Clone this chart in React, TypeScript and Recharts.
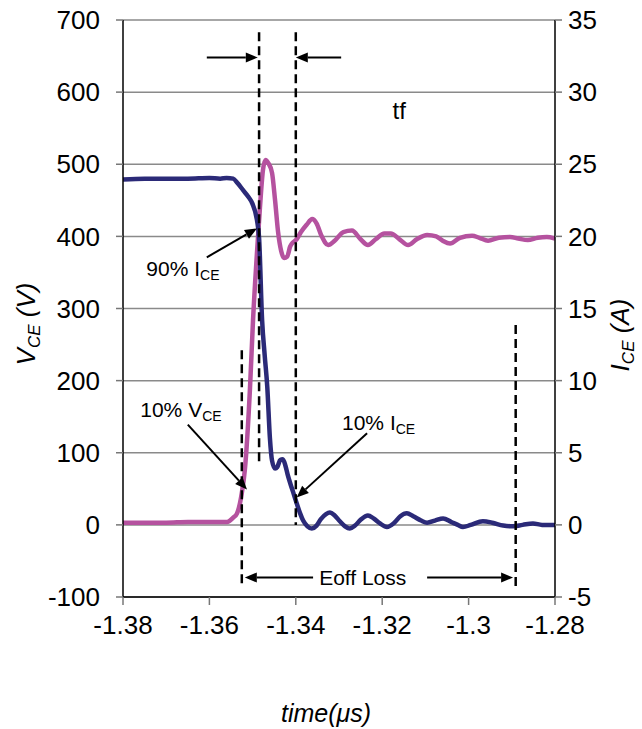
import React from 'react';
import { ComposedChart, Line, XAxis, YAxis, CartesianGrid, ReferenceLine, ReferenceDot } from 'recharts';

// ---- data ----
const xTicks = [-1.38, -1.36, -1.34, -1.32, -1.3, -1.28];
const vTicks = [-100, 0, 100, 200, 300, 400, 500, 600, 700];
const iTicks = [-5, 0, 5, 10, 15, 20, 25, 30, 35];

// V_CE (left axis)
const vceTime = [
  -1.38, -1.375, -1.37, -1.365, -1.36, -1.3575, -1.356, -1.3545, -1.3535, -1.3522, -1.351, -1.3501,
  -1.349, -1.3485, -1.3478, -1.3472, -1.3466, -1.346, -1.3455, -1.3448, -1.3443, -1.3436, -1.343,
  -1.3424, -1.3419, -1.3412, -1.3406, -1.3398, -1.339, -1.3383, -1.3373, -1.3363, -1.3352, -1.3342,
  -1.333, -1.3321, -1.331, -1.3298, -1.3286, -1.3275, -1.3263, -1.325, -1.3233, -1.322, -1.3205,
  -1.3189, -1.3172, -1.3158, -1.3143, -1.3128, -1.311, -1.3096, -1.3078, -1.3059, -1.304, -1.3025,
  -1.3013, -1.2995, -1.2967, -1.2945, -1.292, -1.2897, -1.2875, -1.2851, -1.283, -1.281, -1.28,
];
const vceValues = [
  479, 480, 480, 480, 481, 480, 481, 480, 474, 464, 455, 446,
  423, 398, 284, 235, 191, 121, 89, 78, 80, 90, 91,
  82, 70, 56, 45, 30, 16, 6, -2, -5, -1, 8,
  15, 17, 13, 5, -2, -5, -1, 7, 13, 9, 2,
  -3, 3, 12, 16, 12, 6, 3, 6, 9, 4, 0,
  -3, 0, 5, 3, -1, -2, 0, 2, 0, 0, 0,
];

// I_CE (right axis)
const iceTime = [
  -1.38, -1.37, -1.365, -1.36, -1.3559, -1.3545, -1.3536, -1.3525, -1.3518, -1.3506, -1.3499, -1.349,
  -1.3483, -1.3476, -1.347, -1.3464, -1.3455, -1.3448, -1.3441, -1.3434, -1.3427, -1.342, -1.3413,
  -1.3406, -1.3398, -1.3388, -1.3375, -1.3362, -1.3352, -1.334, -1.3325, -1.331, -1.329, -1.327,
  -1.325, -1.3233, -1.3215, -1.3195, -1.318, -1.316, -1.314, -1.312, -1.3096, -1.3075, -1.306,
  -1.3043, -1.302, -1.2992, -1.2975, -1.2955, -1.293, -1.2904, -1.2885, -1.2863, -1.284, -1.2819, -1.28,
];
const iceValues = [
  0.15, 0.15, 0.2, 0.2, 0.2, 0.5, 0.8, 2.2, 3.8, 9.5, 14.2, 18.8,
  22, 24.6, 25.3, 25.1, 24.4, 22.5, 20.3, 19.0, 18.5, 18.6, 19.3,
  19.6, 19.8, 20.3, 20.8, 21.2, 20.9, 20.0, 19.4, 19.7, 20.3, 20.4,
  19.8, 19.4, 19.8, 20.2, 20.2, 19.8, 19.4, 19.8, 20.1, 20.0, 19.7,
  19.5, 19.9, 20.05, 19.9, 19.7, 19.9, 19.95, 19.85, 19.75, 19.9, 19.95, 19.85,
];

// annotation geometry in data units (time, V_CE)
const dashTimes = [-1.3485, -1.34, -1.3525, -1.2891];
const dashTop = [683, 683, 242, 277];
const dashBottom = [87, 0, -84, -91];

const arrowStartT = [-1.3606, -1.3295, -1.3606, -1.365, -1.3235, -1.336, -1.3096];
const arrowStartV = [648, 648, 371, 139, 127, -73, -73];
const arrowEndT = [-1.3488, -1.34, -1.349, -1.3513, -1.3398, -1.3518, -1.2897];
const arrowEndV = [648, 648, 411, 49, 38, -73, -73];

const noteText = ['tf', '90% I', '10% V', '10% I', 'Eoff Loss'];
const noteSub = ['', 'CE', 'CE', 'CE', ''];
const noteT = [-1.3176, -1.3746, -1.376, -1.3293, -1.3346];
const noteV = [563, 345, 150, 131, -83];

const vceData = vceTime.map((t, i) => ({ t, v: vceValues[i] }));
const iceData = iceTime.map((t, i) => ({ t, a: iceValues[i] }));

const FONT = '"Liberation Sans", Arial, sans-serif';

const arrowShape = (props: any) => {
  const { x1, y1, x2, y2 } = props;
  const ang = Math.atan2(y2 - y1, x2 - x1);
  const L = 12;
  const W = 5;
  const bx = x2 - L * Math.cos(ang);
  const by = y2 - L * Math.sin(ang);
  const p1x = bx + W * Math.sin(ang);
  const p1y = by - W * Math.cos(ang);
  const p2x = bx - W * Math.sin(ang);
  const p2y = by + W * Math.cos(ang);
  return (
    <g>
      <line x1={x1} y1={y1} x2={bx} y2={by} stroke="#000" strokeWidth={2} />
      <polygon points={`${x2},${y2} ${p1x},${p1y} ${p2x},${p2y}`} fill="#000" />
    </g>
  );
};

const makeNote = (text: string, sub: string) => (props: any) => {
  const { cx, cy } = props;
  const size = sub || text.length > 3 ? 21 : 24;
  return (
    <text x={cx} y={cy} fontFamily={FONT} fontSize={size} fill="#000">
      {text}
      {sub ? (
        <tspan fontSize={14} dy={4}>
          {sub}
        </tspan>
      ) : null}
    </text>
  );
};

const LeftTitle = () => (
  <text
    x={35}
    y={324}
    transform="rotate(-90 35 324)"
    textAnchor="middle"
    fontFamily={FONT}
    fontSize={26}
    fontStyle="italic"
    fill="#000"
  >
    V<tspan fontSize={17} dy={5}>CE</tspan>
    <tspan dy={-5}> (V)</tspan>
  </text>
);

const RightTitle = () => (
  <text
    x={629}
    y={335}
    transform="rotate(-90 629 335)"
    textAnchor="middle"
    fontFamily={FONT}
    fontSize={26}
    fontStyle="italic"
    fill="#000"
  >
    I<tspan fontSize={17} dy={5}>CE</tspan>
    <tspan dy={-5}> (A)</tspan>
  </text>
);

const BottomTitle = () => (
  <text x={326} y={722} textAnchor="middle" fontFamily={FONT} fontSize={25} fontStyle="italic" fill="#000">
    time(μs)
  </text>
);

export default function App() {
  const tickStyle = { fill: '#000', fontSize: 26, fontFamily: FONT };
  return (
    <div style={{ position: 'absolute', left: 0, top: 0, width: 642, height: 729, background: '#fff' }}>
      <ComposedChart width={642} height={729} margin={{ top: 20, right: 0, left: 0, bottom: 0 }}>
        <CartesianGrid yAxisId="left" vertical={false} stroke="#8a8a8a" strokeWidth={1.5} />
        <XAxis
          dataKey="t"
          type="number"
          domain={[-1.38, -1.28]}
          ticks={xTicks}
          interval={0}
          allowDataOverflow
          height={132}
          tick={tickStyle}
          tickSize={8}
          tickMargin={11}
          axisLine={{ stroke: '#000', strokeWidth: 1.5 }}
          tickLine={{ stroke: '#777', strokeWidth: 1.5 }}
          label={<BottomTitle />}
        />
        <YAxis
          yAxisId="left"
          orientation="left"
          domain={[-100, 700]}
          ticks={vTicks}
          interval={0}
          allowDataOverflow
          width={123}
          tick={tickStyle}
          tickSize={7}
          tickMargin={16}
          axisLine={{ stroke: '#000', strokeWidth: 1.5 }}
          tickLine={{ stroke: '#777', strokeWidth: 1.5 }}
          label={<LeftTitle />}
        />
        <YAxis
          yAxisId="right"
          orientation="right"
          domain={[-5, 35]}
          ticks={iTicks}
          interval={0}
          allowDataOverflow
          width={87}
          tick={tickStyle}
          tickSize={7}
          tickMargin={6}
          axisLine={{ stroke: '#000', strokeWidth: 1.5 }}
          tickLine={{ stroke: '#777', strokeWidth: 1.5 }}
          label={<RightTitle />}
        />
        <Line
          data={iceData}
          dataKey="a"
          yAxisId="right"
          type="monotone"
          stroke="#B5529F"
          strokeWidth={4.5}
          dot={false}
          isAnimationActive={false}
        />
        <Line
          data={vceData}
          dataKey="v"
          yAxisId="left"
          type="monotone"
          stroke="#2B2A78"
          strokeWidth={4.5}
          dot={false}
          isAnimationActive={false}
        />
        {dashTimes.map((t, i) => (
          <ReferenceLine
            key={`d${i}`}
            yAxisId="left"
            segment={[
              { x: t, y: dashTop[i] },
              { x: t, y: dashBottom[i] },
            ]}
            stroke="#000"
            strokeWidth={2.5}
            strokeDasharray="9 5"
            ifOverflow="visible"
          />
        ))}
        {arrowStartT.map((t, i) => (
          <ReferenceLine
            key={`a${i}`}
            yAxisId="left"
            segment={[
              { x: t, y: arrowStartV[i] },
              { x: arrowEndT[i], y: arrowEndV[i] },
            ]}
            shape={arrowShape}
            ifOverflow="visible"
          />
        ))}
        {noteText.map((txt, i) => (
          <ReferenceDot
            key={`n${i}`}
            yAxisId="left"
            x={noteT[i]}
            y={noteV[i]}
            r={1}
            shape={makeNote(txt, noteSub[i])}
            ifOverflow="visible"
          />
        ))}
      </ComposedChart>
    </div>
  );
}
